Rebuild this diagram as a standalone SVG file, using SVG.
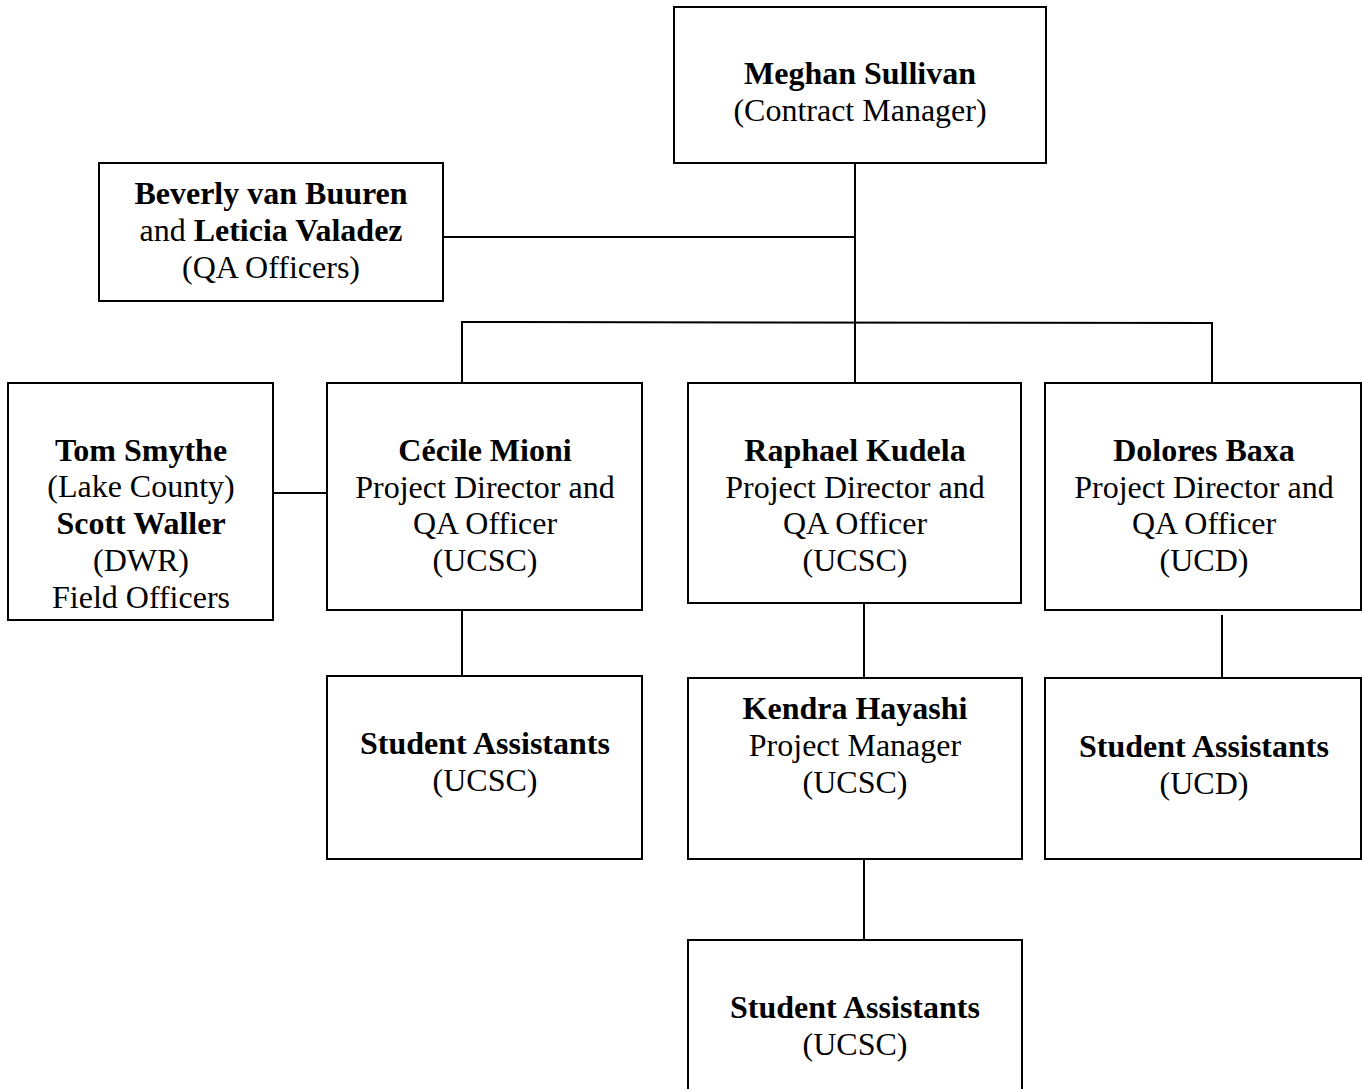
<svg xmlns="http://www.w3.org/2000/svg" width="1362" height="1089" viewBox="0 0 1362 1089">
<style>
.box{fill:#fff;stroke:#000;stroke-width:2}
.ln{stroke:#000;stroke-width:2;fill:none}
text{font-family:"Liberation Serif","Times New Roman",serif;font-size:32px;fill:#000;text-anchor:middle}
.b{font-weight:bold}
</style>
<rect width="1362" height="1089" fill="#fff"/>
<g id="connectors">
<line class="ln" x1="855" y1="163" x2="855" y2="383"/>
<line class="ln" x1="443" y1="237" x2="855" y2="237"/>
<polyline class="ln" points="462,383 462,322 1212,323 1212,383"/>
<line class="ln" x1="273" y1="493" x2="327" y2="493"/>
<line class="ln" x1="462" y1="610" x2="462" y2="676"/>
<line class="ln" x1="864" y1="603" x2="864" y2="678"/>
<line class="ln" x1="1222" y1="615" x2="1222" y2="678"/>
<line class="ln" x1="864" y1="859" x2="864" y2="940"/>
</g>
<g id="meghan">
<rect class="box" x="674" y="7" width="372" height="156"/>
<text x="860" y="84" class="b">Meghan Sullivan</text>
<text x="860" y="121">(Contract Manager)</text>
</g>
<g id="qa">
<rect class="box" x="99" y="163" width="344" height="138"/>
<text x="271" y="204" class="b">Beverly van Buuren</text>
<text x="271" y="241">and <tspan class="b">Leticia Valadez</tspan></text>
<text x="271" y="278">(QA Officers)</text>
</g>
<g id="tom">
<rect class="box" x="8" y="383" width="265" height="237"/>
<text x="141" y="461" class="b">Tom Smythe</text>
<text x="141" y="497">(Lake County)</text>
<text x="141" y="534" class="b">Scott Waller</text>
<text x="141" y="571">(DWR)</text>
<text x="141" y="608">Field Officers</text>
</g>
<g id="cecile">
<rect class="box" x="327" y="383" width="315" height="227"/>
<text x="485" y="461" class="b">Cécile Mioni</text>
<text x="485" y="498">Project Director and</text>
<text x="485" y="534">QA Officer</text>
<text x="485" y="571">(UCSC)</text>
</g>
<g id="raphael">
<rect class="box" x="688" y="383" width="333" height="220"/>
<text x="855" y="461" class="b">Raphael Kudela</text>
<text x="855" y="498">Project Director and</text>
<text x="855" y="534">QA Officer</text>
<text x="855" y="571">(UCSC)</text>
</g>
<g id="dolores">
<rect class="box" x="1045" y="383" width="316" height="227"/>
<text x="1204" y="461" class="b">Dolores Baxa</text>
<text x="1204" y="498">Project Director and</text>
<text x="1204" y="534">QA Officer</text>
<text x="1204" y="571">(UCD)</text>
</g>
<g id="students-ucsc-1">
<rect class="box" x="327" y="676" width="315" height="183"/>
<text x="485" y="754" class="b">Student Assistants</text>
<text x="485" y="791">(UCSC)</text>
</g>
<g id="kendra">
<rect class="box" x="688" y="678" width="334" height="181"/>
<text x="855" y="719" class="b">Kendra Hayashi</text>
<text x="855" y="756">Project Manager</text>
<text x="855" y="793">(UCSC)</text>
</g>
<g id="students-ucd">
<rect class="box" x="1045" y="678" width="316" height="181"/>
<text x="1204" y="757" class="b">Student Assistants</text>
<text x="1204" y="794">(UCD)</text>
</g>
<g id="students-ucsc-2">
<rect class="box" x="688" y="940" width="334" height="160"/>
<text x="855" y="1018" class="b">Student Assistants</text>
<text x="855" y="1055">(UCSC)</text>
</g>
</svg>
